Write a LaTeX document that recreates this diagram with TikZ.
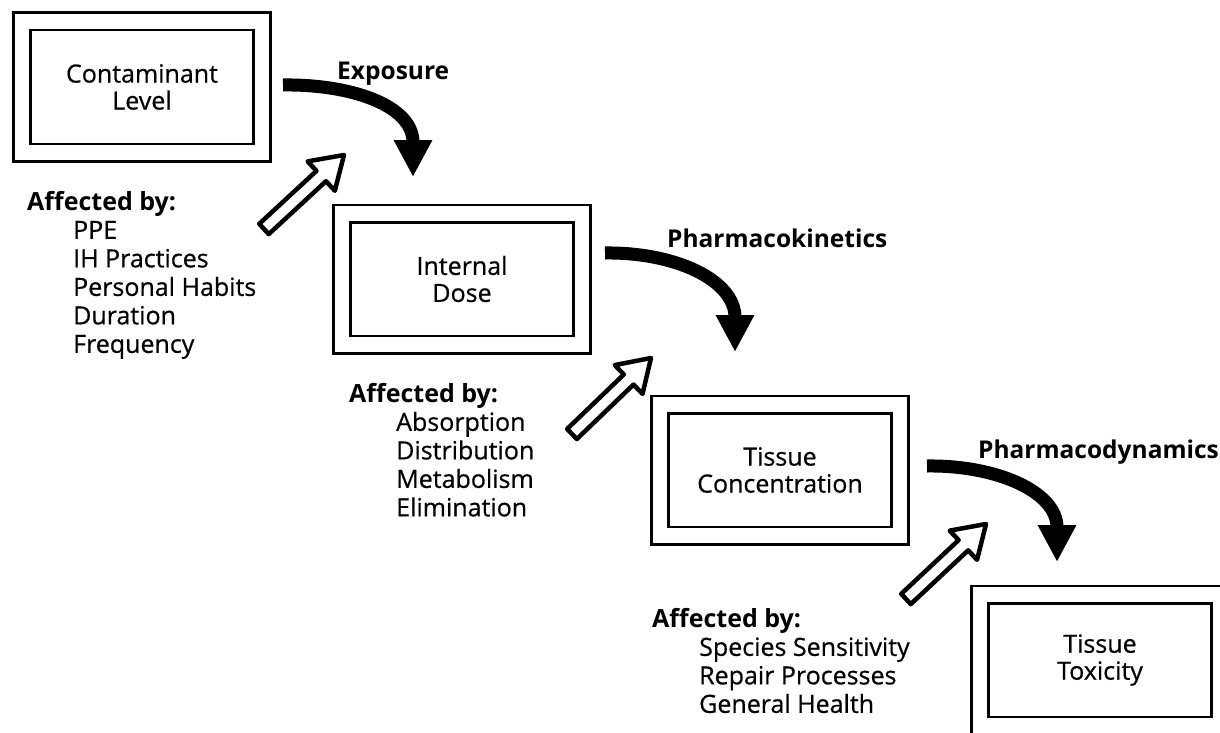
\documentclass[tikz,border=0pt]{standalone}
\usepackage{fontspec}
\setmainfont{Open Sans}[UprightFeatures={FakeBold=0.6}]
\usetikzlibrary{arrows.meta,calc}
\tikzset{
  stage/.style={draw, double, line width=2.6pt, double distance=14.8pt,
    minimum width=240pt, minimum height=131pt, align=center,
    font=\fontsize{25}{27}\selectfont, inner sep=0pt},
  flow/.style={line width=13pt, -{Triangle[width=36pt,length=37pt]}},
  flowlabel/.style={anchor=base west, font=\fontsize{24.5}{28}\selectfont\bfseries, inner sep=0pt},
  factors/.style={anchor=north west, align=left, font=\fontsize{25}{28.5}\selectfont, inner sep=0pt},
  hollow/.style={draw, line width=4.5pt, line join=round, fill=white},
}
\begin{document}
\begin{tikzpicture}[x=1pt,y=-1pt]
\useasboundingbox (0,0) rectangle (1220,733);
\clip (0,0) rectangle (1220,733);

% stages
\node[stage] (b1) at (142,87)   {Contaminant\\Level};
\node[stage] (b2) at (462,279)  {Internal\\Dose};
\node[stage] (b3) at (780,470)  {Tissue\\Concentration};
\node[stage] (b4) at (1100,660) {Tissue\\Toxicity};

% curved process arrows
\coordinate (s1) at (283,85);  \coordinate (e1) at (413,177);
\coordinate (s2) at (605,253); \coordinate (e2) at (735,352);
\coordinate (s3) at (927,466); \coordinate (e3) at (1057,562);
\draw[flow] (s1) .. controls (350,84) and (413,105) .. (e1);
\draw[flow] (s2) .. controls (675,252) and (735,280) .. (e2);
\draw[flow] (s3) .. controls (997,465) and (1057,492) .. (e3);

\node[flowlabel] (l1) at (337,80)  {Exposure};
\node[flowlabel] (l2) at (667,247) {Pharmacokinetics};
\node[flowlabel] (l3) at (978,458) {Pharmacodynamics};

% factor lists
\node[factors] (f1) at (27,191) {{\bfseries Affected by:}\\
  \hspace*{46pt}PPE\\ \hspace*{46pt}IH Practices\\ \hspace*{46pt}Personal Habits\\
  \hspace*{46pt}Duration\\ \hspace*{46pt}Frequency};
\node[factors] (f2) at (349,383) {{\bfseries Affected by:}\\
  \hspace*{47pt}Absorption\\ \hspace*{47pt}Distribution\\ \hspace*{47pt}Metabolism\\
  \hspace*{47pt}Elimination};
\node[factors] (f3) at (652,608) {{\bfseries Affected by:}\\
  \hspace*{47pt}Species Sensitivity\\ \hspace*{47pt}Repair Processes\\
  \hspace*{47pt}General Health};

% hollow arrows
\coordinate (t1) at (264,229); \coordinate (h1) at (344,155);
\coordinate (t2) at (572,434); \coordinate (h2) at (651,358);
\coordinate (t3) at (906,599); \coordinate (h3) at (986,524);
\foreach \t/\h in {t1/h1,t2/h2,t3/h3}{
  \coordinate (hc) at ($(\h)!31pt!(\t)$);
  \draw[hollow] ($(\t)!7pt!90:(\h)$) -- ($(hc)!7pt!90:(\h)$)
    -- ($(hc)!20pt!90:(\h)$) -- (\h) -- ($(hc)!20pt!-90:(\h)$)
    -- ($(hc)!7pt!-90:(\h)$) -- ($(\t)!7pt!-90:(\h)$) -- cycle;
}
\end{tikzpicture}
\end{document}
